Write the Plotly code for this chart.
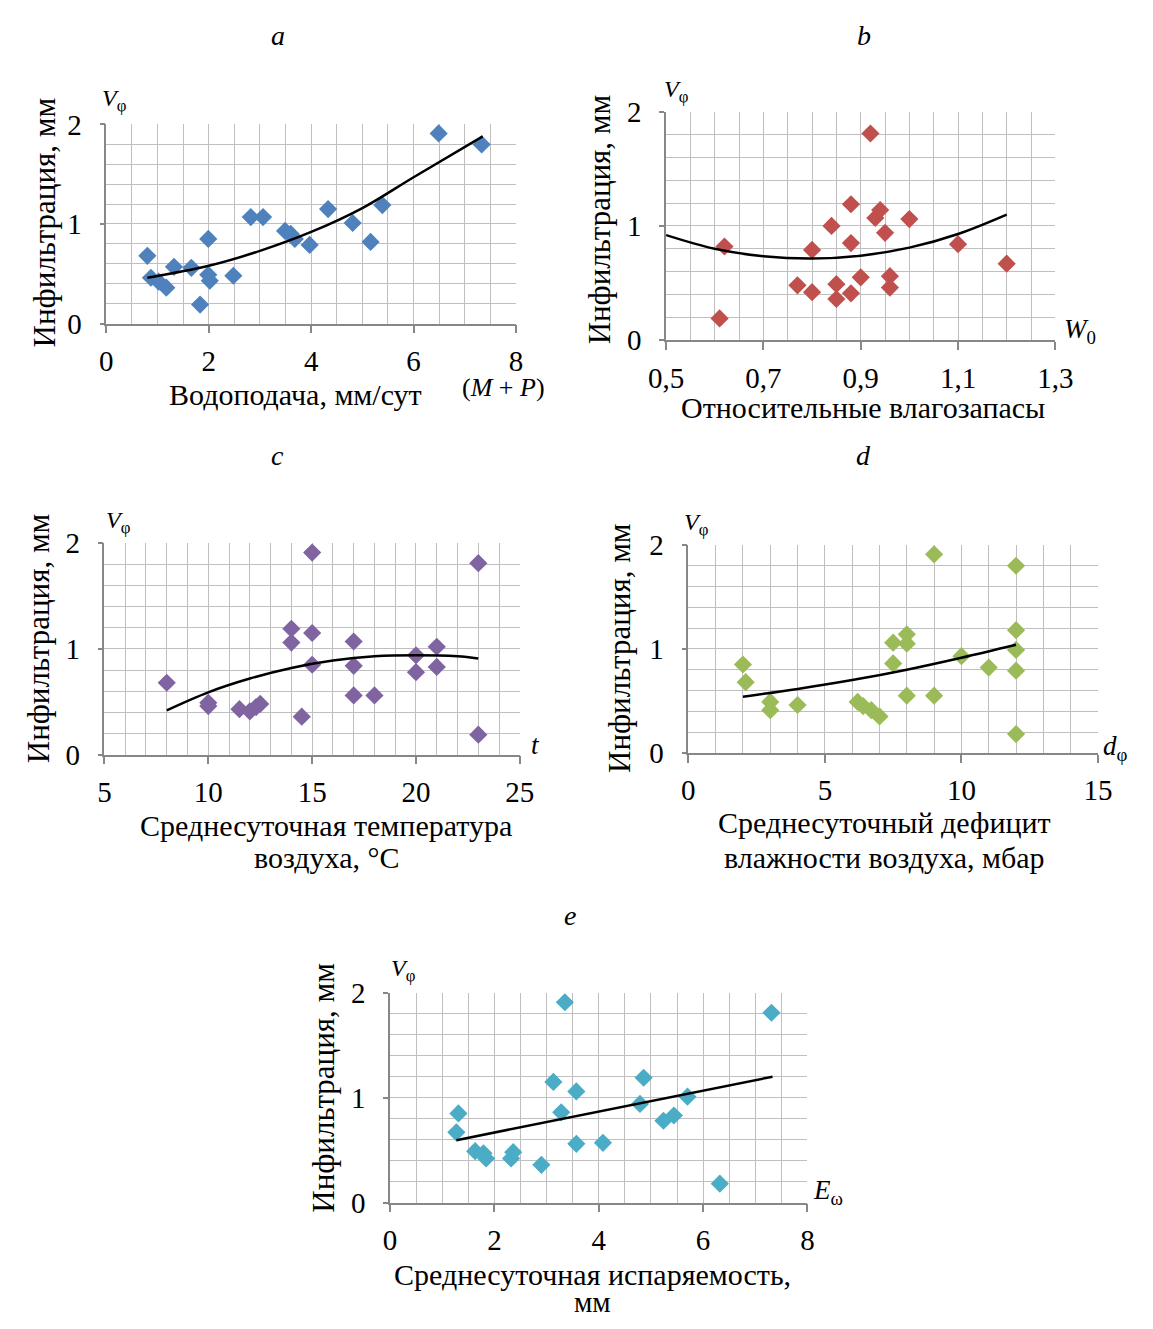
import plotly.graph_objects as go

# page is 1153x1329; the browser body has an 8px margin, so the figure is kept inside it
OFF = 8
W, H = 1153 - 2 * OFF, 1329 - 2 * OFF
FONT = "Liberation Serif"

# ---------------- data ----------------
# a: water supply (M+P), mm/day
a_x = [0.80, 0.87, 1.02, 1.17, 1.32, 1.66, 1.83, 1.99, 1.99, 2.02, 2.48, 2.82, 3.06, 3.49, 3.60, 3.68, 3.97, 4.33, 4.81, 5.16, 5.39, 6.49, 7.33]
a_y = [0.68, 0.46, 0.42, 0.36, 0.57, 0.56, 0.19, 0.85, 0.49, 0.43, 0.48, 1.07, 1.07, 0.93, 0.90, 0.85, 0.79, 1.15, 1.01, 0.82, 1.19, 1.91, 1.80]
a_tx = [0.8, 2, 3, 4, 5, 6, 7.35]
a_ty = [0.46, 0.58, 0.73, 0.92, 1.16, 1.47, 1.88]

# b: relative soil moisture W0
b_x = [0.61, 0.62, 0.77, 0.80, 0.80, 0.84, 0.85, 0.85, 0.88, 0.88, 0.88, 0.90, 0.92, 0.93, 0.94, 0.95, 0.96, 0.96, 1.00, 1.10, 1.20]
b_y = [0.19, 0.82, 0.48, 0.79, 0.42, 1.00, 0.49, 0.36, 1.19, 0.85, 0.41, 0.55, 1.81, 1.07, 1.14, 0.94, 0.56, 0.46, 1.06, 0.84, 0.67]
b_tx = [0.5, 0.6, 0.7, 0.8, 0.9, 1.0, 1.1, 1.2]
b_ty = [0.92, 0.80, 0.735, 0.715, 0.74, 0.81, 0.93, 1.10]
b_ticks = [0.5, 0.7, 0.9, 1.1, 1.3]
b_ticklabels = ["0,5", "0,7", "0,9", "1,1", "1,3"]

# c: mean daily air temperature, °C
c_x = [8.0, 10.0, 10.0, 11.5, 12.0, 12.3, 12.5, 14.0, 14.0, 14.5, 15.0, 15.0, 15.0, 17.0, 17.0, 17.0, 18.0, 20.0, 20.0, 21.0, 21.0, 23.0, 23.0]
c_y = [0.68, 0.49, 0.46, 0.43, 0.41, 0.45, 0.48, 1.19, 1.06, 0.36, 1.91, 1.15, 0.85, 1.07, 0.84, 0.56, 0.56, 0.94, 0.78, 1.02, 0.83, 1.81, 0.19]
c_tx = [8, 10, 12, 14, 16, 18, 20, 22, 23]
c_ty = [0.42, 0.59, 0.72, 0.82, 0.89, 0.93, 0.94, 0.93, 0.91]

# d: mean daily air humidity deficit, mbar
d_x = [2.0, 2.1, 3.0, 3.0, 4.0, 6.2, 6.4, 6.7, 7.0, 7.5, 7.5, 8.0, 8.0, 8.0, 9.0, 9.0, 10.0, 11.0, 12.0, 12.0, 12.0, 12.0, 12.0]
d_y = [0.85, 0.68, 0.49, 0.41, 0.46, 0.49, 0.45, 0.41, 0.35, 1.06, 0.86, 1.14, 1.05, 0.55, 1.91, 0.55, 0.93, 0.82, 1.80, 1.18, 0.99, 0.79, 0.18]
d_tx = [2, 4, 6, 8, 10, 12]
d_ty = [0.54, 0.615, 0.70, 0.80, 0.915, 1.04]

# e: mean daily evaporation, mm
e_x = [1.27, 1.31, 1.63, 1.79, 1.84, 2.32, 2.36, 2.90, 3.13, 3.28, 3.35, 3.57, 3.57, 4.08, 4.79, 4.86, 5.24, 5.44, 5.70, 6.32, 7.31]
e_y = [0.67, 0.85, 0.49, 0.47, 0.42, 0.42, 0.48, 0.36, 1.15, 0.86, 1.91, 1.06, 0.56, 0.57, 0.94, 1.19, 0.78, 0.83, 1.01, 0.18, 1.81]
e_tx = [1.27, 7.33]
e_ty = [0.595, 1.20]

# ---------------- layout ----------------
panels = [
    dict(x=a_x, y=a_y, tx=a_tx, ty=a_ty, color="#4F81BD", xr=[0, 8], dt=2, mdt=0.5, box=(91, 514, 111, 315)),
    dict(x=b_x, y=b_y, tx=b_tx, ty=b_ty, color="#C0504D", xr=[0.5, 1.3], dt=0.2, mdt=0.05, box=(669, 1071, 98, 332)),
    dict(x=c_x, y=c_y, tx=c_tx, ty=c_ty, color="#8064A2", xr=[5, 25], dt=5, mdt=1, box=(89, 518, 540, 757)),
    dict(x=d_x, y=d_y, tx=d_tx, ty=d_ty, color="#9BBB59", xr=[0, 15], dt=5, mdt=1, box=(692, 1115, 542, 755)),
    dict(x=e_x, y=e_y, tx=e_tx, ty=e_ty, color="#4BACC6", xr=[0, 8], dt=2, mdt=0.5, box=(384, 815, 1001, 1216)),
]

GRID = "#BFBFBF"
AXIS = "#878787"


def fx(px):
    return (px - OFF) / W


def fy(py):
    return 1 - (py - OFF) / H


fig = go.Figure()
layout = dict(
    width=W, height=H, margin=dict(l=0, r=0, t=0, b=0),
    paper_bgcolor="white", plot_bgcolor="white", showlegend=False,
    font=dict(family=FONT, color="black", size=28),
)

for i, p in enumerate(panels):
    n = "" if i == 0 else str(i + 1)
    l, r, t, b = p["box"]
    xa = dict(
        domain=[fx(l), fx(r)], range=p["xr"], anchor="y" + n,
        tick0=p["xr"][0], dtick=p["dt"],
        showgrid=True, gridcolor=GRID, gridwidth=1,
        minor=dict(dtick=p["mdt"], showgrid=True, gridcolor=GRID, gridwidth=1, ticks=""),
        showline=True, linecolor=AXIS, linewidth=1.5, mirror=False,
        ticks="outside", ticklen=8, tickcolor=AXIS, tickwidth=1.5,
        tickfont=dict(family=FONT, size=29, color="black"),
        ticklabelstandoff=3, zeroline=False, fixedrange=True,
    )
    if i == 1:
        xa.update(tickmode="array", tickvals=b_ticks, ticktext=b_ticklabels)
    ya = dict(
        domain=[fy(b), fy(t)], range=[0, 2], anchor="x" + n,
        tick0=0, dtick=1,
        showgrid=True, gridcolor=GRID, gridwidth=1,
        minor=dict(dtick=0.2, showgrid=True, gridcolor=GRID, gridwidth=1, ticks=""),
        showline=True, linecolor=AXIS, linewidth=1.5, mirror=False,
        ticks="outside", ticklen=5, tickcolor=AXIS, tickwidth=1.5,
        tickfont=dict(family=FONT, size=29, color="black"),
        ticklabelstandoff=12, zeroline=False, fixedrange=True,
    )
    layout["xaxis" + n] = xa
    layout["yaxis" + n] = ya
    fig.add_trace(go.Scatter(
        x=p["x"], y=p["y"], mode="markers", xaxis="x" + n, yaxis="y" + n,
        marker=dict(symbol="diamond", size=14, color=p["color"], line=dict(width=0)),
        cliponaxis=False,
    ))
    fig.add_trace(go.Scatter(
        x=p["tx"], y=p["ty"], mode="lines", xaxis="x" + n, yaxis="y" + n,
        line=dict(color="black", width=2.5, shape="spline", smoothing=1.0),
    ))

fig.update_layout(**layout)


def ann(text, px, py, size=28, angle=0):
    fig.add_annotation(
        text=text, x=fx(px), y=fy(py), xref="paper", yref="paper",
        showarrow=False, xanchor="center", yanchor="middle", textangle=angle,
        font=dict(family=FONT, size=size, color="black"),
    )


# panel letters
for letter, px, py in [("a", 268, 20), ("b", 873, 20), ("c", 268, 450), ("d", 873, 450), ("e", 570, 922)]:
    ann("<i>" + letter + "</i>", px, py, size=28)

# y-axis titles
for px, py in [(27, 212), (600, 209), (21, 638), (621, 648), (315, 1099)]:
    ann("Инфильтрация, мм", px, py, size=31, angle=-90)

# V_phi labels
for px, py in [(99, 86), (680, 77), (104, 518), (700, 521), (398, 978)]:
    ann("<i>V</i><sub>φ</sub>", px, py, size=24)

# x-axis titles
ann("Водоподача, мм/сут", 286, 388, size=30)
ann("Относительные влагозапасы", 872, 401, size=30)
ann("Среднесуточная температура", 318, 830, size=30)
ann("воздуха, °С", 318, 862, size=30)
ann("Среднесуточный дефицит", 895, 826, size=30)
ann("влажности воздуха, мбар", 895, 862, size=30)
ann("Среднесуточная испаряемость,", 593, 1290, size=30)
ann("мм", 593, 1318, size=29)

# axis-end variable labels
ann("(<i>M</i> + <i>P</i>)", 501, 381, size=26)
ann("<i>W</i><sub>0</sub>", 1096, 323, size=27)
ann("<i>t</i>", 534, 747, size=27)
ann("<i>d</i><sub>φ</sub>", 1133, 750, size=27)
ann("<i>E</i><sub>ω</sub>", 836, 1205, size=27)

fig.write_html("out.html")
